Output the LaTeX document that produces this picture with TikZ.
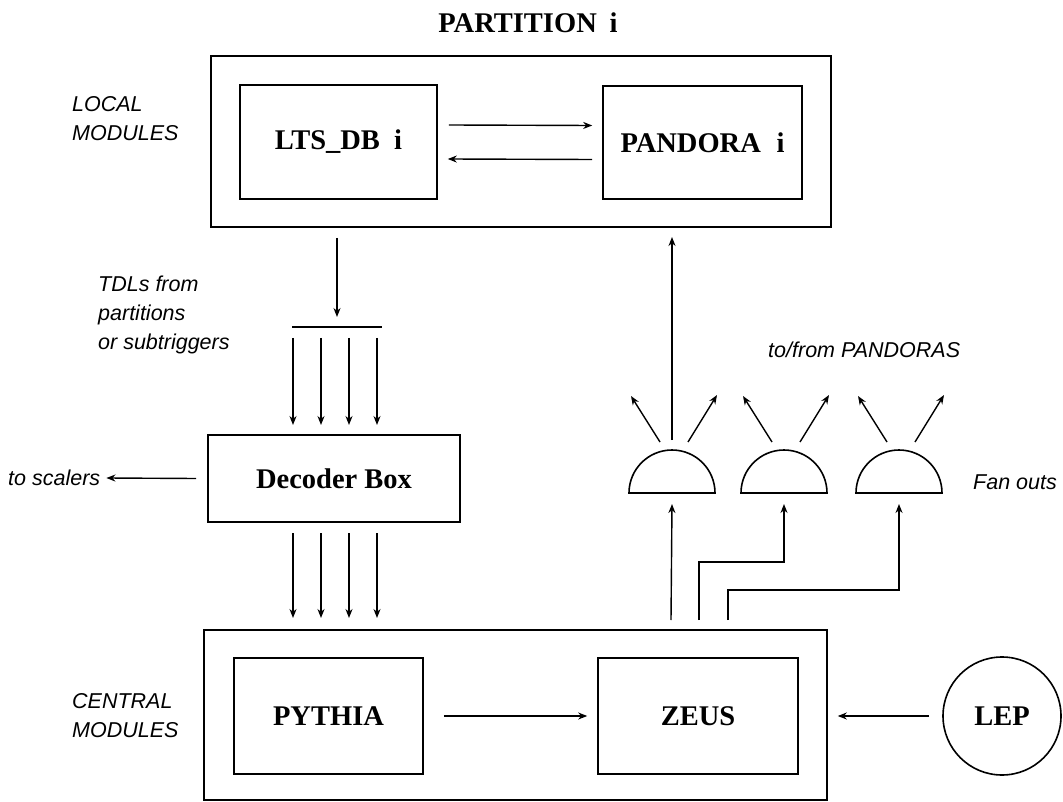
\documentclass[tikz,border=0pt]{standalone}
\usepackage{fontspec}
\setmainfont{Liberation Serif}
\setsansfont{Liberation Sans}
\usetikzlibrary{arrows.meta}
\newcommand\dgboxfont{\bfseries\fontsize{28.5}{31}\selectfont}
\newcommand\dglblfont{\sffamily\itshape\fontsize{21.5}{29}\selectfont}
\begin{document}
\begin{tikzpicture}[x=1pt,y=-1pt,
  box/.style={draw,line width=1.6pt,inner sep=0pt,font=\dgboxfont},
  lbl/.style={font=\dglblfont,align=left,anchor=west,inner sep=0pt},
  arr/.style={-{Stealth[length=9pt,width=7pt]},line width=1.4pt},
  ln/.style={line width=1.4pt}]
\useasboundingbox (0,0) rectangle (1063,802);

% partition
\node[font=\dgboxfont] (title) at (528,23) {PARTITION\hspace{0.45em}i};
\node[box,minimum width=620pt,minimum height=171pt] (topbox) at (521,141.5) {};
\node[box,minimum width=197pt,minimum height=114pt] (lts) at (338.5,142) {LTS\_DB\hspace{0.5em}i};
\node[box,minimum width=199pt,minimum height=113pt] (pandora) at (702.5,142.5) {PANDORA\hspace{0.55em}i};
\node[lbl] (local) at (72,119) {LOCAL\\MODULES};

\draw[arr] ([xshift=11pt,yshift=17pt]lts.east) -- ([xshift=-10pt,yshift=17pt]pandora.west);
\draw[arr] ([xshift=-10pt,yshift=-17pt]pandora.west) -- ([xshift=10pt,yshift=-17pt]lts.east);

% TDL split
\coordinate (ltsout) at (337,238);
\coordinate (barin) at (337,317);
\coordinate (barL) at (292,327);
\coordinate (barR) at (382,327);
\draw[arr] (ltsout) -- (barin);
\draw[ln] (barL) -- (barR);
\node[lbl] (tdl) at (98,315) {TDLs from\\partitions\\or subtriggers};

% decoder
\node[box,minimum width=252pt,minimum height=87pt] (decoder) at (334,478.5) {Decoder Box};
\foreach \x in {293,321,349,377} {
  \draw[arr] (\x,338) -- (\x,425);
  \draw[arr] (\x,533) -- (\x,618);
}
\node[lbl] (scal) at (8,478) {to scalers};
\draw[arr] ([xshift=-11pt]decoder.west) -- ([xshift=6pt]scal.east);

% central
\node[box,minimum width=623pt,minimum height=170pt] (central) at (515.5,715) {};
\node[box,minimum width=189pt,minimum height=116pt] (pythia) at (328.5,716) {PYTHIA};
\node[box,minimum width=200pt,minimum height=116pt] (zeus) at (698,716) {ZEUS};
\node[draw,circle,line width=1.6pt,minimum size=118pt,inner sep=0pt,font=\dgboxfont] (lep) at (1002,716) {LEP};
\node[lbl] (centrallbl) at (72,716) {CENTRAL\\MODULES};
\draw[arr] ([xshift=20pt]pythia.east) -- ([xshift=-10pt]zeus.west);
\draw[arr] ([xshift=-13pt]lep.west) -- ([xshift=10pt,yshift=-1pt]central.east);

% fan outs
\coordinate (f1) at (672,493);
\coordinate (f2) at (784,493);
\coordinate (f3) at (899,493);
\foreach \c in {f1,f2,f3} {
  \draw[line width=1.6pt] ([xshift=-43pt]\c) arc[start angle=180,end angle=0,radius=43pt] -- cycle;
  \draw[arr] ([xshift=-12pt,yshift=51pt]\c) -- ([xshift=-41pt,yshift=97pt]\c);
  \draw[arr] ([xshift=16pt,yshift=51pt]\c) -- ([xshift=45pt,yshift=98pt]\c);
}
\coordinate (pin) at (672,237);
\draw[arr] ([yshift=53pt]f1) -- (pin);
\node[lbl] (tofrom) at (768,350) {to/from PANDORAS};
\node[lbl] (fanouts) at (973,482) {Fan outs};

% ZEUS feeds
\coordinate (z1) at (671,620);
\coordinate (z2) at (699,620);
\coordinate (z3) at (728,620);
\draw[arr] (z1) -- ([yshift=-11pt]f1);
\draw[arr] (z2) |- (784,562) -- ([yshift=-11pt]f2);
\draw[arr] (z3) |- (899,590) -- ([yshift=-11pt]f3);
\end{tikzpicture}
\end{document}
